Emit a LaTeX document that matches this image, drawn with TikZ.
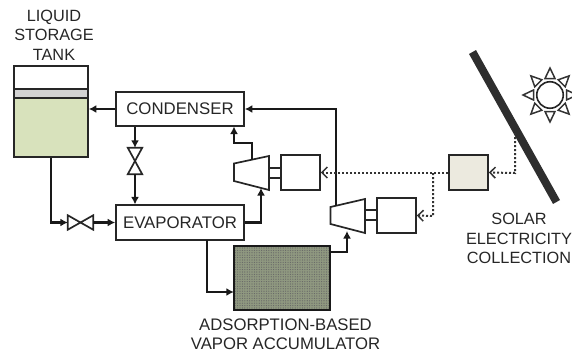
\documentclass[tikz,border=0pt]{standalone}
\usepackage{fontspec}
\setmainfont{Liberation Sans}
\usetikzlibrary{arrows.meta,patterns.meta,calc}
\definecolor{txt}{HTML}{262626}
\definecolor{tankgreen}{HTML}{D8E2BC}
\definecolor{tankgray}{HTML}{D2D2D2}
\definecolor{boxtan}{HTML}{ECEADF}
\definecolor{olive}{HTML}{8F9880}
\tikzset{
 x=1pt,y=-1pt,
 label text/.style={font=\fontsize{16.3}{19.5}\selectfont,text=txt,align=center,inner sep=0pt},
 unit/.style={draw=black!85,line width=1.7pt,fill=white,inner sep=0pt,font=\fontsize{16.8}{19}\selectfont,text=txt},
 wide unit/.style={unit,minimum width=128pt,minimum height=34.5pt},
 small unit/.style={unit,minimum width=39pt,minimum height=35pt},
 valve box/.style={inner sep=0pt},
 pipe/.style={draw=black!90,line width=2.4pt,line join=miter,-{Latex[length=7.5pt,width=8pt]}},
 signal/.style={draw=black!80,line width=2pt,dash pattern=on 2pt off 2pt,-{Straight Barb[length=5.5pt,width=11pt,line width=1.5pt]}},
 outline/.style={draw=black!85,line width=1.7pt,line join=miter},
 ray/.style={draw=black!80,line width=1.5pt,fill=white,line join=miter},
}
\begin{document}
\begin{tikzpicture}
\useasboundingbox (0,0) rectangle (572,356);
\clip (0,0) rectangle (572,356);
% tank
\fill[tankgreen] (14,98) rectangle (88,157);
\fill[tankgray] (14,89) rectangle (88,98);
\node[inner sep=0pt,minimum width=74pt,minimum height=91pt,draw=black!85,line width=1.7pt] (tank) at (51,111.5) {};
\draw[outline] (tank.west |- 0,89) -- (tank.east |- 0,89);
\draw[outline] (tank.west |- 0,98) -- (tank.east |- 0,98);
\node[label text] (tanklabel) at (54,35) {LIQUID\\STORAGE\\TANK};
% units
\node[wide unit] (cond) at (180,109) {CONDENSER};
\node[wide unit] (evap) at (180,222.5) {EVAPORATOR};
% accumulator
\node[inner sep=0pt,minimum width=96pt,minimum height=64pt,fill=olive] (acc) at (282,278) {};
\fill[pattern={Dots[distance=2.4pt,radius=0.6pt]},pattern color=black!60] (acc.north west) rectangle (acc.south east);
\draw[outline,draw=black!90] (acc.north west) rectangle (acc.south east);
\node[label text,font=\fontsize{16.7}{19}\selectfont] (acclabel) at (285.5,334.5) {ADSORPTION-BASED\\VAPOR ACCUMULATOR};
% valves
\node[valve box,minimum width=25pt,minimum height=14pt] (hv) at (80.5,222.5) {};
\draw[outline] (hv.north west) -- (hv.south east) -- (hv.north east) -- (hv.south west) -- cycle;
\node[valve box,minimum width=14pt,minimum height=26pt] (vv) at (135,161) {};
\draw[outline] (vv.north west) -- (vv.south east) -- (vv.south west) -- (vv.north east) -- cycle;
% compressor 1 and motor
\coordinate (c1a) at (234,163.5); \coordinate (c1b) at (269,156);
\coordinate (c1c) at (269,190); \coordinate (c1d) at (234,181);
\draw[outline,fill=white] (c1a) -- (c1b) -- (c1c) -- (c1d) -- cycle;
\node[small unit] (m1) at (300.5,172.5) {};
\draw[outline] (c1b |- 0,168) -- (m1.west |- 0,168) (c1b |- 0,178) -- (m1.west |- 0,178);
\coordinate (c1in) at (261,188); \coordinate (c1out) at (252,160);
% compressor 2 and motor
\coordinate (c2a) at (330.5,207); \coordinate (c2b) at (365,199);
\coordinate (c2c) at (365,233); \coordinate (c2d) at (330.5,224);
\draw[outline,fill=white] (c2a) -- (c2b) -- (c2c) -- (c2d) -- cycle;
\node[small unit] (m2) at (396.5,215.5) {};
\draw[outline] (c2b |- 0,210) -- (m2.west |- 0,210) (c2b |- 0,220) -- (m2.west |- 0,220);
\coordinate (c2in) at (347,231); \coordinate (c2out) at (336,206);
% inverter box
\node[unit,fill=boxtan,minimum width=39pt,minimum height=35pt] (inv) at (468.5,172.5) {};
% panel
\coordinate (pa) at (472.5,52); \coordinate (pb) at (556.5,202);
\draw[line width=8pt,draw=black!82] (pa) -- (pb);
\coordinate (ptap) at (515,133);
% sun
\node[circle,draw=black!85,line width=1.6pt,fill=white,minimum size=26.5pt,inner sep=0pt] (sun) at (550,95) {};
\foreach \a in {0,45,...,315}{
  \draw[ray,rotate around={\a:(sun.center)}] ($(sun.center)+(16.5,-5)$) -- ($(sun.center)+(27,0)$) -- ($(sun.center)+(16.5,5)$) -- cycle;
}
\node[label text] (sollabel) at (519,238.5) {SOLAR\\ELECTRICITY\\COLLECTION};
% connectors
\draw[pipe] (cond.west) -- (cond.west -| tank.east);
\draw[pipe] (vv.north |- cond.south) -- (vv.north);
\draw[pipe] (vv.south) -- (vv.south |- evap.north);
\draw[pipe] (tank.south -| 51,0) -- (51,222.5) -- (hv.west);
\draw[pipe] (hv.east) -- (evap.west);
\draw[pipe] (c1out) -- (252,143) -- (234,143) -- (234,126.5);
\draw[pipe] (evap.east) -- (261,222.5) -- (c1in);
\draw[pipe] (c2out) -- (336,109) -- (cond.east);
\draw[pipe] (207,240) -- (207,292) -- (acc.west |- 0,292);
\draw[pipe] (acc.east |- 0,252) -- (347,252) -- (c2in);
\draw[signal] (ptap) -- (515,173) -- (inv.east);
\draw[signal] (inv.west) -- (m1.east);
\draw[signal] (433,173) -- (433,216) -- (m2.east);
\end{tikzpicture}
\end{document}
